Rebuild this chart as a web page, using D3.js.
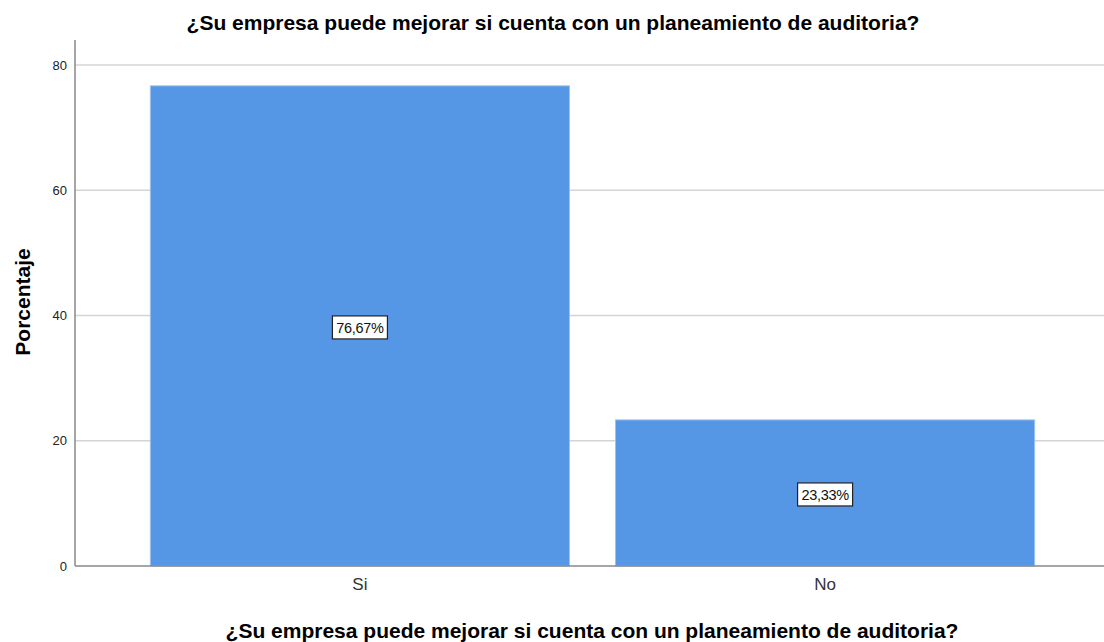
<!DOCTYPE html>
<html>
<head>
<meta charset="utf-8">
<script src="https://cdn.jsdelivr.net/npm/d3@7"></script>
<style>
    body { margin: 0; background: #fff; }
    text { font-family: "Liberation Sans", Arial, sans-serif; }
</style>
</head>
<body>
<div id="chart"></div>
<script>
// chart data
let categories = ["Si", "No"];
let percentages = [76.67, 23.33];
let labels = ["76,67%", "23,33%"];
let yTicks = [0, 20, 40, 60, 80];
let titleText = "¿Su empresa puede mejorar si cuenta con un planeamiento de auditoria?";

let width = 1104, height = 642;
let margin = {top: 40, right: -6, bottom: 76, left: 75};
let innerW = width - margin.left - margin.right;
let innerH = height - margin.top - margin.bottom;

let svg = d3.select("#chart").append("svg")
    .attr("width", width)
    .attr("height", height);

let g = svg.append("g")
    .attr("transform", `translate(${margin.left},${margin.top})`);

// scales
let x = d3.scaleBand()
    .domain(categories)
    .range([0, innerW])
    .paddingInner(0.099)
    .paddingOuter(0.162);

let y = d3.scaleLinear()
    .domain([0, 80])
    .range([innerH, innerH - 80 * 6.2625]);

// gridlines
g.selectAll(".grid")
    .data(yTicks.filter(d => d > 0))
    .enter().append("line")
    .attr("x1", 0)
    .attr("x2", width - margin.left)
    .attr("y1", d => y(d))
    .attr("y2", d => y(d))
    .attr("stroke", "#d4d4d4")
    .attr("stroke-width", 1.3);

// bars
g.selectAll(".bar")
    .data(categories)
    .enter().append("rect")
    .attr("x", d => x(d))
    .attr("width", x.bandwidth())
    .attr("y", (d, i) => y(percentages[i]))
    .attr("height", (d, i) => y(0) - y(percentages[i]))
    .attr("fill", "#5596e5")
    .attr("stroke", "#9cc2f0")
    .attr("stroke-width", 1);

// y axis
let yAxis = d3.axisLeft(y).tickValues(yTicks).tickSize(0).tickPadding(8);
let ya = g.append("g").call(yAxis);
ya.select(".domain").remove();
ya.selectAll("text").attr("font-size", 13).attr("fill", "#222");

g.append("line")
    .attr("x1", 0).attr("x2", 0)
    .attr("y1", 0).attr("y2", innerH)
    .attr("stroke", "#888").attr("stroke-width", 1.5);

// x axis
let xAxis = d3.axisBottom(x).tickSize(0).tickPadding(12);
let xa = g.append("g").attr("transform", `translate(0,${innerH})`).call(xAxis);
xa.select(".domain").remove();
xa.selectAll("text").attr("font-size", 17).attr("fill", "#333");

g.append("line")
    .attr("x1", 0).attr("x2", width - margin.left)
    .attr("y1", innerH).attr("y2", innerH)
    .attr("stroke", "#888").attr("stroke-width", 1.5);

// value labels
let lab = g.selectAll(".lab")
    .data(categories)
    .enter().append("g")
    .attr("transform", (d, i) => `translate(${x(d) + x.bandwidth() / 2},${(y(percentages[i]) + y(0)) / 2 + 1.5})`);

lab.append("rect")
    .attr("x", -27.5).attr("y", -11.5)
    .attr("width", 55).attr("height", 23)
    .attr("fill", "#fff")
    .attr("stroke", "#222")
    .attr("stroke-width", 1.2);

lab.append("text")
    .attr("text-anchor", "middle")
    .attr("dy", "0.36em")
    .attr("font-size", 14.5)
    .attr("letter-spacing", -0.3)
    .attr("fill", "#111")
    .text((d, i) => labels[i]);

// titles
svg.append("text")
    .attr("x", 553)
    .attr("y", 30)
    .attr("text-anchor", "middle")
    .attr("font-size", 21)
    .attr("font-weight", "bold")
    .text(titleText);

svg.append("text")
    .attr("x", 592)
    .attr("y", 638)
    .attr("text-anchor", "middle")
    .attr("font-size", 21)
    .attr("font-weight", "bold")
    .text(titleText);

svg.append("text")
    .attr("transform", `translate(30,302) rotate(-90)`)
    .attr("text-anchor", "middle")
    .attr("font-size", 21)
    .attr("font-weight", "bold")
    .text("Porcentaje");
</script>
</body>
</html>
